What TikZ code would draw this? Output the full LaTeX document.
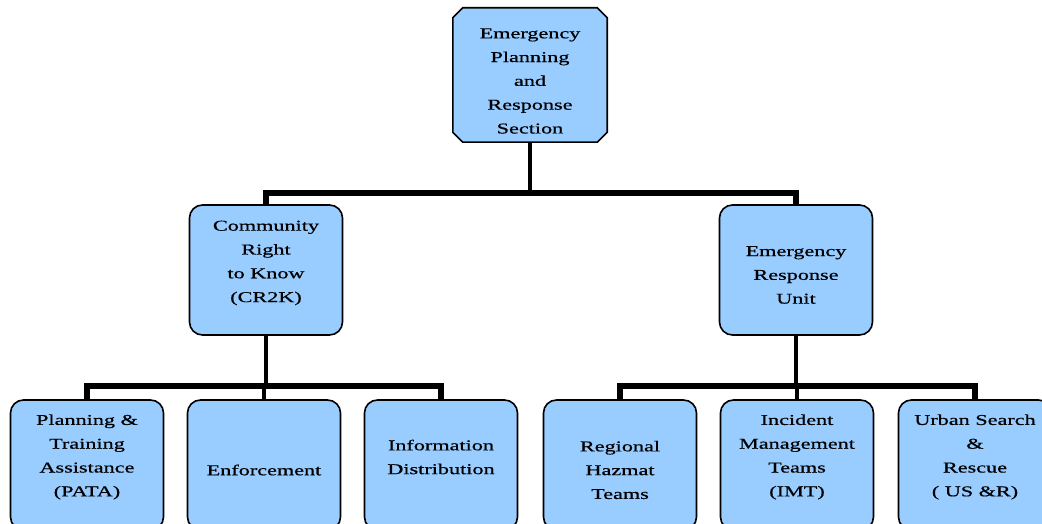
\documentclass[tikz,border=0pt]{standalone}
\usepackage{fontspec}
\setmainfont[FakeStretch=1.48,FakeBold=0.6]{Liberation Serif}
\definecolor{boxblue}{RGB}{153,204,255}
\begin{document}
\begin{tikzpicture}[x=1pt,y=-1pt,
  box/.style={draw=black, line width=1.6pt, fill=boxblue, rounded corners=13pt,
    minimum width=153pt, minimum height=130pt, inner sep=0pt},
  topbox/.style={minimum width=154pt, minimum height=134pt, inner sep=0pt},
  octa/.style={draw=black, line width=1.6pt, fill=boxblue, line join=miter},
  txt/.style={align=center, font=\fontsize{15pt}{23.8pt}\selectfont, inner sep=0pt},
  bar/.style={line width=6pt, line join=miter},
  vline/.style={line width=4.5pt}]
\useasboundingbox (0,0) rectangle (1042,524);
\fill[white] (0,0) rectangle (1042,524);

% boxes
\node[topbox] (top) at (530,75) {};
\path[octa] ([xshift=10pt]top.north west) -- ([xshift=-10pt]top.north east)
  -- ([yshift=-10pt]top.north east) -- ([yshift=10pt]top.south east)
  -- ([xshift=-10pt]top.south east) -- ([xshift=10pt]top.south west)
  -- ([yshift=10pt]top.south west) -- ([yshift=-10pt]top.north west) -- cycle;
\node[box] (cr) at (266,270) {};
\node[box] (eru) at (796,270) {};
\node[box] (pata) at (87,465) {};
\node[box] (enf) at (264,465) {};
\node[box] (info) at (441,465) {};
\node[box] (reg) at (620,465) {};
\node[box] (imt) at (797,465) {};
\node[box] (usr) at (975,465) {};

% texts
\node[txt] (topt) at (530,81) {Emergency\\Planning\\and\\Response\\Section};
\node[txt] (crt) at (266,263) {Community\\Right\\to Know\\(CR2K)};
\node[txt] (erut) at (796,275) {Emergency\\Response\\Unit};
\node[txt] (patat) at (87,457) {Planning \&\\Training\\Assistance\\(PATA)};
\node[txt] (enft) at (264,470) {Enforcement};
\node[txt] (infot) at (441,457) {Information\\Distribution};
\node[txt] (regt) at (620,470) {Regional\\Hazmat\\Teams};
\node[txt] (imtt) at (797,457) {Incident\\Management\\Teams\\(IMT)};
\node[txt] (usrt) at (975,457) {Urban Search\\\&\\Rescue\\( US \&R)};

% connector coordinates
\coordinate (b0) at (0,193);
\coordinate (b1) at (0,386);
\coordinate (b2) at (0,386);

% top level
\draw[vline] (top.south) -- (top.south |- b0);
\draw[bar] (cr.north) |- (top.south |- b0) -| (eru.north);

% CR2K branch
\draw[vline] (cr.south) -- (cr.south |- b1);
\draw[bar] (pata.north) |- (enf.north |- b1) -| (info.north);
\draw[vline] (enf.north |- b1) -- (enf.north);

% ERU branch
\draw[vline] (eru.south) -- (eru.south |- b2);
\draw[bar] (reg.north) |- (imt.north |- b2) -| (usr.north);
\draw[vline] (imt.north |- b2) -- (imt.north);
\end{tikzpicture}
\end{document}
